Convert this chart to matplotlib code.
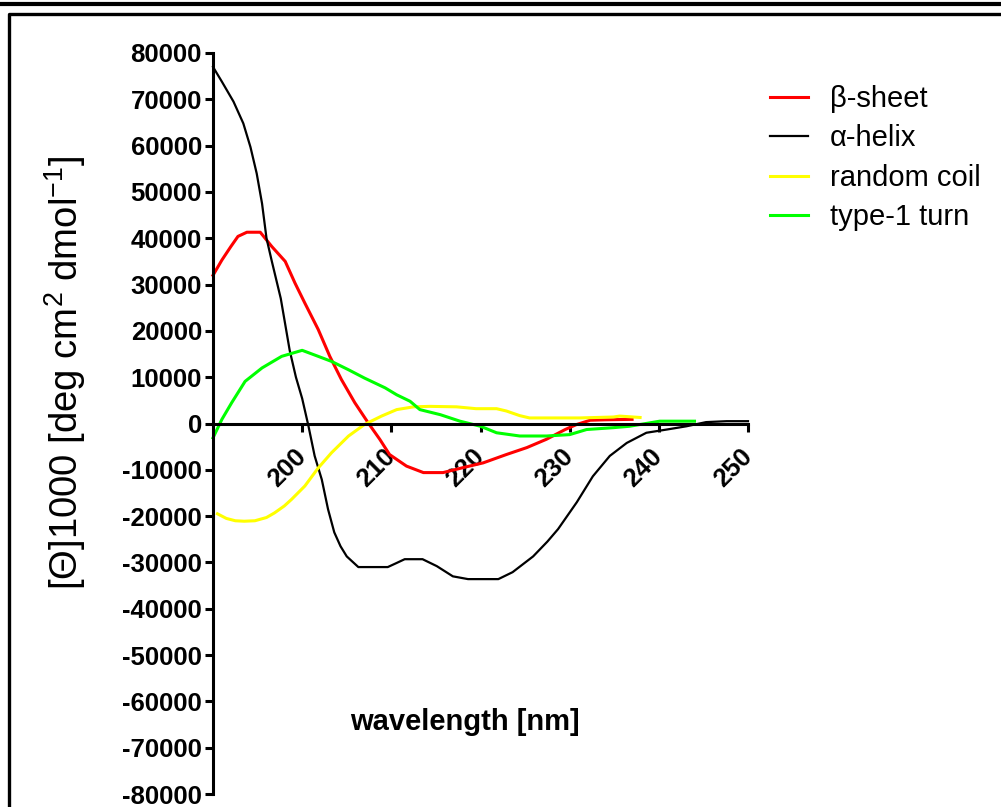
import matplotlib
matplotlib.use("Agg")
import matplotlib.pyplot as plt
from matplotlib.lines import Line2D

plt.rcParams['font.family'] = ['Liberation Sans', 'DejaVu Sans']
plt.rcParams['axes.unicode_minus'] = False
plt.rcParams['mathtext.fontset'] = 'custom'
plt.rcParams['mathtext.rm'] = 'Liberation Sans'
plt.rcParams['mathtext.it'] = 'Liberation Sans:italic'
plt.rcParams['mathtext.bf'] = 'Liberation Sans:bold'

# ---- data ----
wl_beta = [190, 191, 192, 192.8, 193.8, 195.3, 196.6, 198.1, 199.2, 200.3, 201.8, 203.1,
           204.4, 205.9, 207.4, 208.7, 209.8, 211.7, 213.6, 215.8, 218.1, 220.3, 222.9,
           225.2, 227.4, 229.5, 230.8, 232.3, 234, 237]
beta = [32000, 35300, 38200, 40400, 41300, 41300, 38200, 35000, 30300, 26000, 20300, 14500,
        9500, 4500, 150, -3400, -6700, -9200, -10600, -10600, -9500, -8500, -6700,
        -5200, -3400, -1300, -200, 700, 800, 900]

wl_helix = [190, 191, 192.3, 193.4, 194.2, 194.9, 195.5, 196, 196.6, 197.6, 198.6, 199.3,
            200, 200.7, 201.4, 202.2, 202.9, 203.6, 204.3, 205, 206.3, 207.5, 209.6, 210.5,
            211.5, 213.5, 215.1, 216.9, 218.6, 220, 222, 223.6, 225.9, 227.5, 228.7, 230.8,
            232.6, 234.5, 236.4, 238.6, 240.9, 243.1, 245.3, 247.6, 250]
helix = [77000, 73800, 69500, 64800, 59700, 54000, 47500, 40000, 35000, 27000, 15800, 10000,
         5400, -500, -7000, -12100, -18500, -23500, -26500, -28700, -31000, -31000, -31000, -30200,
         -29300, -29300, -30800, -33000, -33600, -33600, -33600, -32100, -28700, -25500, -22800, -17000,
         -11400, -7000, -4200, -2000, -1300, -600, 300, 500, 500]

wl_coil = [190.5, 191.5, 192.5, 193.5, 194.7, 196, 196.9, 198, 198.8, 200.3, 201.8, 203.3,
           205.2, 207, 208.9, 210.6, 212.5, 214.3, 217.3, 219.5, 221.8, 222.9, 224.4, 225.5,
           231.1, 234.9, 235.6, 237.9]
coil = [-19500, -20500, -21000, -21100, -21000, -20300, -19300, -17800, -16400, -13500, -9600, -6300,
        -2700, -200, 1600, 3000, 3600, 3700, 3600, 3200, 3200, 2700, 1700, 1200,
        1200, 1400, 1600, 1300]

wl_turn = [190, 191, 192.1, 193.6, 195.5, 197.7, 200, 201.8, 203.3, 205.2, 207, 209.3, 210.6,
           212.1, 213.2, 215.5, 217.7, 220, 221.8, 224.4, 227.4, 230, 231.9, 234.9, 236.7,
           240.1, 244]
turn = [-3100, 900, 4500, 9100, 12000, 14500, 15800, 14500, 13400, 11600, 9800, 7700, 6200,
        4800, 3000, 1900, 500, -600, -2000, -2700, -2700, -2400, -1300, -900, -600,
        500, 500]

labels = ['β-sheet', 'α-helix', 'random coil', 'type-1 turn']
colors = ['#ff0000', '#000000', '#ffff00', '#00ff00']
x_ticks = [200, 210, 220, 230, 240, 250]
y_ticks = list(range(-80000, 80001, 10000))

W, H = 1001, 807
fig = plt.figure(figsize=(W / 100, H / 100), dpi=100)
ax = fig.add_axes([213 / W, 1 - 794 / H, (748 - 213) / W, (794 - 53) / H])

series = [(wl_beta, beta), (wl_helix, helix), (wl_coil, coil), (wl_turn, turn)]
lws = [2.2, 1.6, 2.2, 2.2]
handles = []
for (xs, ys), c, lab, lw in zip(series, colors, labels, lws):
    h, = ax.plot(xs, ys, color=c, lw=lw, label=lab, clip_on=False)
    handles.append(h)

ax.set_xlim(190, 250)
ax.set_ylim(-80000, 80000)
ax.spines['top'].set_visible(False)
ax.spines['right'].set_visible(False)
ax.spines['bottom'].set_position(('data', 0))
for s in ['left', 'bottom']:
    ax.spines[s].set_linewidth(2.2)
ax.set_yticks(y_ticks)
ax.set_yticklabels([str(v) for v in y_ticks])
ax.set_xticks(x_ticks)
ax.set_xticklabels([str(v) for v in x_ticks])
ax.tick_params(axis='both', direction='out', length=6, width=2.2, labelsize=18.5)
ax.tick_params(axis='y', pad=2)
ax.tick_params(axis='x', pad=15)
for t in ax.get_yticklabels():
    t.set_fontweight('bold')
for t in ax.get_xticklabels():
    t.set_fontweight('bold')
    t.set_rotation(45)
    t.set_rotation_mode('anchor')
    t.set_ha('right')
    t.set_va('center')

fig.text(465 / W, 1 - 722 / H, 'wavelength [nm]', ha='center', va='center',
         fontsize=21, fontweight='bold')
fig.text(65 / W, 1 - 373 / H, '[Θ]1000 [deg cm$^{2}$ dmol$^{-1}$]',
         ha='center', va='center', rotation=90, fontsize=27.5)

fig.legend(handles=handles, labels=labels, loc='upper left',
           bbox_to_anchor=(770 / W, 1 - 85 / H), frameon=False, fontsize=21,
           handlelength=1.3, handletextpad=0.75, labelspacing=0.39,
           borderpad=0, borderaxespad=0)

# outer frame
fig.add_artist(Line2D([0, 1], [1 - 3.5 / H, 1 - 3.5 / H], transform=fig.transFigure,
                      color='black', lw=3))
fig.add_artist(Line2D([8.5 / W, 8.5 / W, 1], [0, 1 - 13.5 / H, 1 - 13.5 / H],
                      transform=fig.transFigure, color='black', lw=2.4))

fig.savefig('out.png', dpi=100)
